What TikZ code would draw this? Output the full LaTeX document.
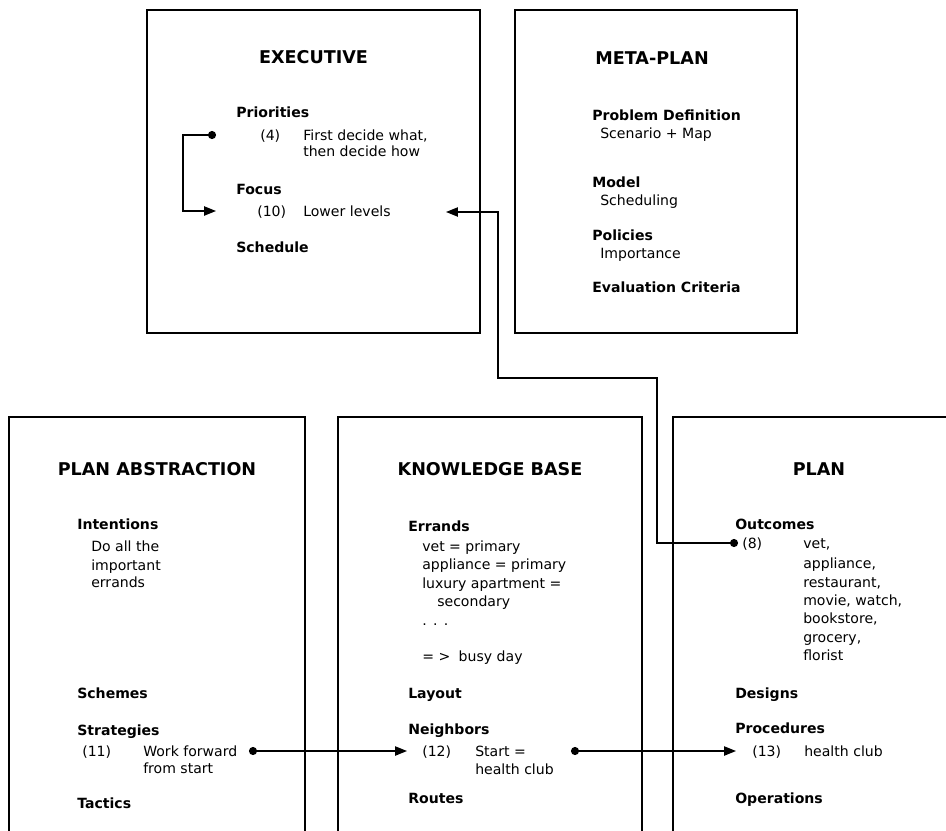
\documentclass[tikz,border=0pt]{standalone}
\usepackage{fontspec}
\setmainfont{DejaVu Sans}
\usetikzlibrary{arrows.meta}
\begin{document}
\begin{tikzpicture}[x=0.025cm,y=-0.025cm,
  panel/.style={draw=black,line width=1.9pt},
  title/.style={anchor=base,inner sep=0pt,font=\fontsize{12.5}{15}\selectfont\bfseries},
  head/.style={anchor=base west,inner sep=0pt,font=\fontsize{10}{12}\selectfont\bfseries},
  txt/.style={anchor=base west,inner sep=0pt,font=\fontsize{10}{12}\selectfont},
  conn/.style={draw=black,line width=1pt},
  tip/.style={-{Triangle[length=8.5pt,width=6.6pt]}},
  dot/.style={circle,fill=black,inner sep=0pt,minimum size=5.8pt}]
\useasboundingbox (0,0) rectangle (946,830);
\clip (0,0) rectangle (946,830);
\fill[white] (0,0) rectangle (946,830);

% ---- panels ----
\draw[panel] (147,10) rectangle (480,333);
\draw[panel] (515,10) rectangle (797,333);
\draw[panel] (9,417) rectangle (305,880);
\draw[panel] (338,417) rectangle (642,880);
\draw[panel] (673,417) rectangle (990,880);

% ---- EXECUTIVE ----
\node[title] (exT) at (313.5,63) {EXECUTIVE};
\node[head] (exPri) at (236,117) {Priorities};
\node[txt] (ex4) at (260,140) {(4)};
\node[txt] (ex4a) at (303,140) {First decide what,};
\node[txt] (ex4b) at (303,156) {then decide how};
\node[head] (exFoc) at (236,194) {Focus};
\node[txt] (ex10) at (257,216) {(10)};
\node[txt] (ex10a) at (303,216) {Lower levels};
\node[head] (exSch) at (236,252) {Schedule};

% ---- META-PLAN ----
\node[title] (mpT) at (652,64) {META-PLAN};
\node[head] (mpPD) at (592,120) {Problem Definition};
\node[txt] (mpPDa) at (600,138) {Scenario + Map};
\node[head] (mpMod) at (592,187) {Model};
\node[txt] (mpModa) at (600,205) {Scheduling};
\node[head] (mpPol) at (592,240) {Policies};
\node[txt] (mpPola) at (600,258) {Importance};
\node[head] (mpEv) at (592,292) {Evaluation Criteria};

% ---- PLAN ABSTRACTION ----
\node[title] (paT) at (157,475) {PLAN ABSTRACTION};
\node[head] (paInt) at (77,529) {Intentions};
\node[txt] (paInta) at (91,551) {Do all the};
\node[txt] (paIntb) at (91,570) {important};
\node[txt] (paIntc) at (91,587) {errands};
\node[head] (paSch) at (77,698) {Schemes};
\node[head] (paStr) at (77,735) {Strategies};
\node[txt] (pa11) at (82,756) {(11)};
\node[txt] (pa11a) at (143,756) {Work forward};
\node[txt] (pa11b) at (143,773) {from start};
\node[head] (paTac) at (77,808) {Tactics};

% ---- KNOWLEDGE BASE ----
\node[title] (kbT) at (490,475) {KNOWLEDGE BASE};
\node[head] (kbErr) at (408,531) {Errands};
\node[txt] (kbE1) at (422,551) {vet = primary};
\node[txt] (kbE2) at (422,569) {appliance = primary};
\node[txt] (kbE3) at (422,588) {luxury apartment =};
\node[txt] (kbE4) at (437,606) {secondary};
\node[txt] (kbE5) at (422,625) {.\hspace{0.45em}.\hspace{0.45em}.};
\node[txt] (kbE6) at (422,661) {= >\hspace{0.6em}busy day};
\node[head] (kbLay) at (408,698) {Layout};
\node[head] (kbNei) at (408,734) {Neighbors};
\node[txt] (kb12) at (422,756) {(12)};
\node[txt] (kb12a) at (475,756) {Start =};
\node[txt] (kb12b) at (475,774) {health club};
\node[head] (kbRou) at (408,803) {Routes};

% ---- PLAN ----
\node[title] (plT) at (819,475) {PLAN};
\node[head] (plOut) at (735,529) {Outcomes};
\node[txt] (pl8) at (742,548) {(8)};
\node[txt] (pl8a) at (803,548) {vet,};
\node[txt] (pl8b) at (803,568) {appliance,};
\node[txt] (pl8c) at (803,587) {restaurant,};
\node[txt] (pl8d) at (803,605) {movie, watch,};
\node[txt] (pl8e) at (803,623) {bookstore,};
\node[txt] (pl8f) at (803,642) {grocery,};
\node[txt] (pl8g) at (803,660) {florist};
\node[head] (plDes) at (735,698) {Designs};
\node[head] (plPro) at (735,733) {Procedures};
\node[txt] (pl13) at (752,756) {(13)};
\node[txt] (pl13a) at (804,756) {health club};
\node[head] (plOpe) at (735,803) {Operations};

% ---- connector ends and bends ----
\node[dot] (d4) at (212,135) {};
\coordinate (t10) at (216,211);
\coordinate (exBend) at (183,0);

\node[dot] (d8) at (734,543) {};
\coordinate (b1) at (657,378);
\coordinate (b2) at (498,212);
\coordinate (tLow) at (446,212);

\node[dot] (d11) at (253,751) {};
\coordinate (t12) at (407,751);

\node[dot] (d12) at (575,751) {};
\coordinate (t13) at (736,751);

% ---- connectors ----
\draw[conn,tip] (d4.center) -- (d4 -| exBend) |- (t10);
\draw[conn,tip] (d8.center) -| (b1) -| (b2) -- (tLow);
\draw[conn,tip] (d11.center) -- (t12);
\draw[conn,tip] (d12.center) -- (t13);
\end{tikzpicture}
\end{document}
